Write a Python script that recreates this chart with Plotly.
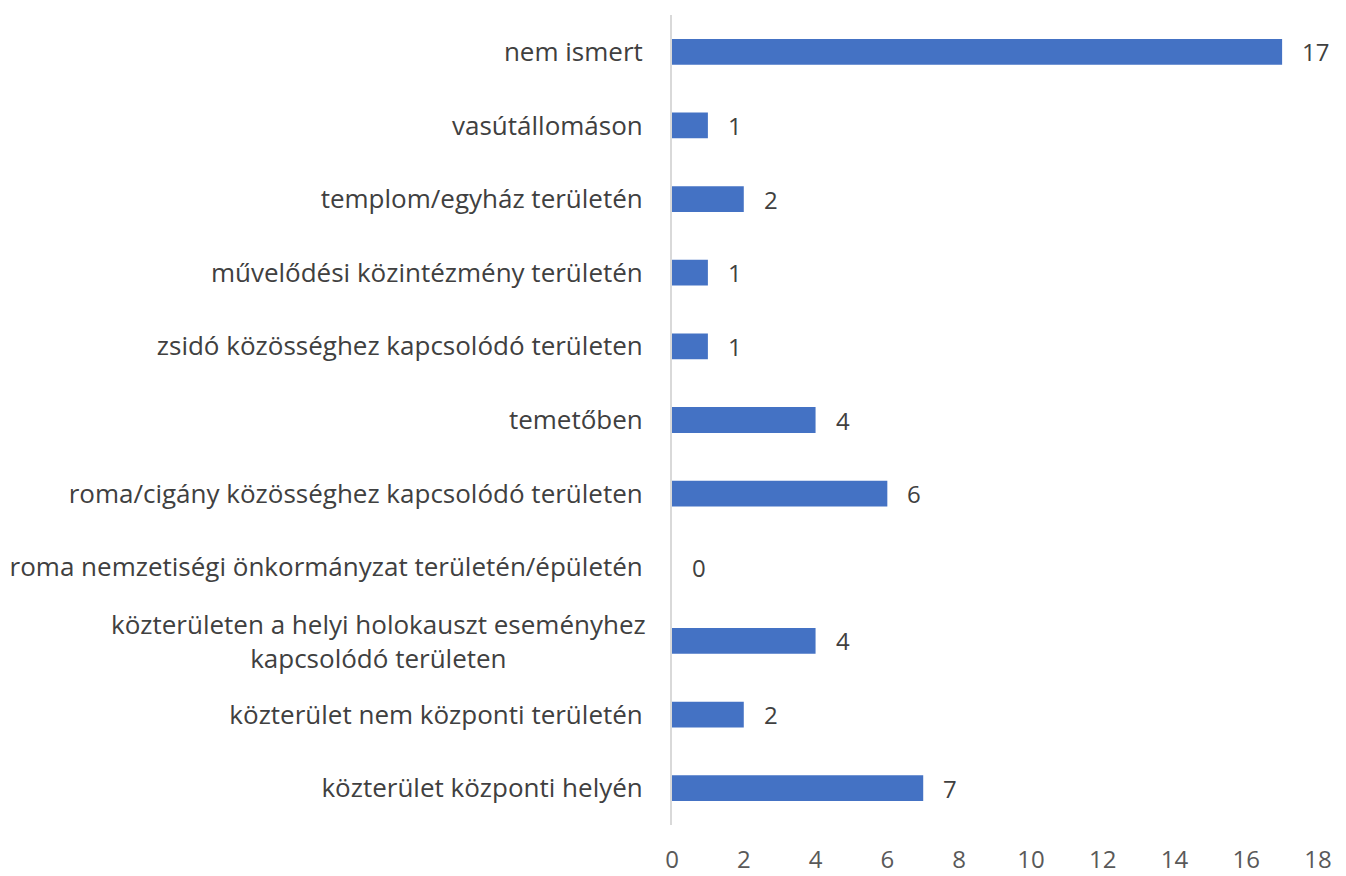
import plotly.graph_objects as go

categories = [
    "közterület központi helyén",
    "közterület nem központi területén",
    "közterületen a helyi holokauszt eseményhez<br>kapcsolódó területen",
    "roma nemzetiségi önkormányzat területén/épületén",
    "roma/cigány közösséghez kapcsolódó területen",
    "temetőben",
    "zsidó közösséghez kapcsolódó területen",
    "művelődési közintézmény területén",
    "templom/egyház területén",
    "vasútállomáson",
    "nem ismert",
]
values = [7, 2, 4, 0, 6, 4, 1, 1, 2, 1, 17]
tick_vals = [0, 2, 4, 6, 8, 10, 12, 14, 16, 18]

FONT = "Open Sans"
FS_CAT = 26
FS_NUM = 24
LABEL_COLOR = "#404040"
TICK_COLOR = "#595959"
BAR_COLOR = "#4472C4"

fig = go.Figure()
fig.add_trace(go.Bar(
    x=values,
    y=categories,
    orientation="h",
    marker=dict(color=BAR_COLOR, line=dict(width=0)),
    width=0.35,
    hoverinfo="x+y",
))

ticktext = ["" if "<br>" in c else c for c in categories]

annotations = []
for c, v in zip(categories, values):
    annotations.append(dict(
        x=v, y=c, xref="x", yref="y", text=str(v),
        showarrow=False, xanchor="left", yanchor="middle",
        xshift=18, font=dict(family=FONT, size=FS_NUM, color=LABEL_COLOR),
    ))
    if "<br>" in c:
        annotations.append(dict(
            x=0, y=c, xref="paper", yref="y", text=c,
            showarrow=False, xanchor="right", yanchor="middle", align="center",
            xshift=-24, font=dict(family=FONT, size=FS_CAT, color=LABEL_COLOR),
        ))

fig.update_layout(
    width=1346, height=876,
    margin=dict(l=664, r=36, t=7, b=59, autoexpand=False),
    paper_bgcolor="white", plot_bgcolor="white",
    showlegend=False,
    font=dict(family=FONT, size=FS_CAT, color=LABEL_COLOR),
    annotations=annotations,
    xaxis=dict(
        range=[0, 18], tickvals=tick_vals, showgrid=False, zeroline=False,
        showline=False, ticks="", ticklabelstandoff=18, automargin=False,
        tickfont=dict(family=FONT, size=FS_NUM, color=TICK_COLOR),
        fixedrange=True,
    ),
    yaxis=dict(
        categoryorder="array", categoryarray=categories,
        tickvals=categories, ticktext=ticktext, automargin=False,
        showgrid=False, zeroline=False, showline=True, linecolor="#D9D9D9", linewidth=2,
        ticks="", ticklabelstandoff=22,
        tickfont=dict(family=FONT, size=FS_CAT, color=LABEL_COLOR),
        range=[-0.5, len(categories) - 0.5],
    ),
)

fig.write_html("out.html")
